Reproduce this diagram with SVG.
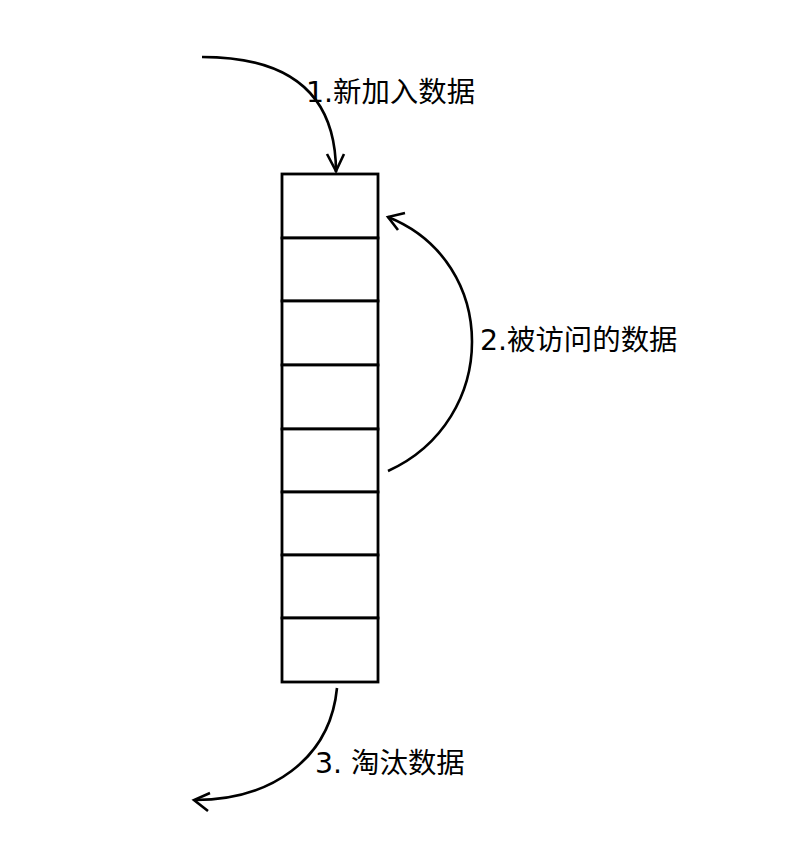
<svg xmlns="http://www.w3.org/2000/svg" width="796" height="856" viewBox="0 0 796 856">
<style>
.cell{fill:#fff;stroke:#000;stroke-width:2.8}
.con{fill:none;stroke:#000;stroke-width:2.6}
.lbl{font-family:"DejaVu Sans","Noto Sans CJK SC",sans-serif;font-size:28.4px;fill:#000}
</style>
<rect width="796" height="856" fill="#fff"/>
<g id="stack">
<rect class="cell" x="282" y="174" width="96" height="64"/>
<rect class="cell" x="282" y="238" width="96" height="63"/>
<rect class="cell" x="282" y="301" width="96" height="64"/>
<rect class="cell" x="282" y="365" width="96" height="64"/>
<rect class="cell" x="282" y="429" width="96" height="63"/>
<rect class="cell" x="282" y="492" width="96" height="63"/>
<rect class="cell" x="282" y="555" width="96" height="63"/>
<rect class="cell" x="282" y="618" width="96" height="64"/>
</g>
<g id="connectors">
<path class="con" d="M202,57 Q336,57 336,172"/>
<path class="con" d="M327,154 L336,171 L344,154"/>
<path class="con" d="M388,471 C500,420 500,262 388,217"/>
<path class="con" d="M405,213 L388,217 L398,230"/>
<path class="con" d="M337,688 C330,760 270,800 195,800"/>
<path class="con" d="M210,793 L194,800 L208,811"/>
</g>
<g id="labels">
<text class="lbl" x="306" y="102">1.新加入数据</text>
<text class="lbl" x="480" y="350">2.被访问的数据</text>
<text class="lbl" x="315" y="773">3. 淘汰数据</text>
</g>
</svg>
